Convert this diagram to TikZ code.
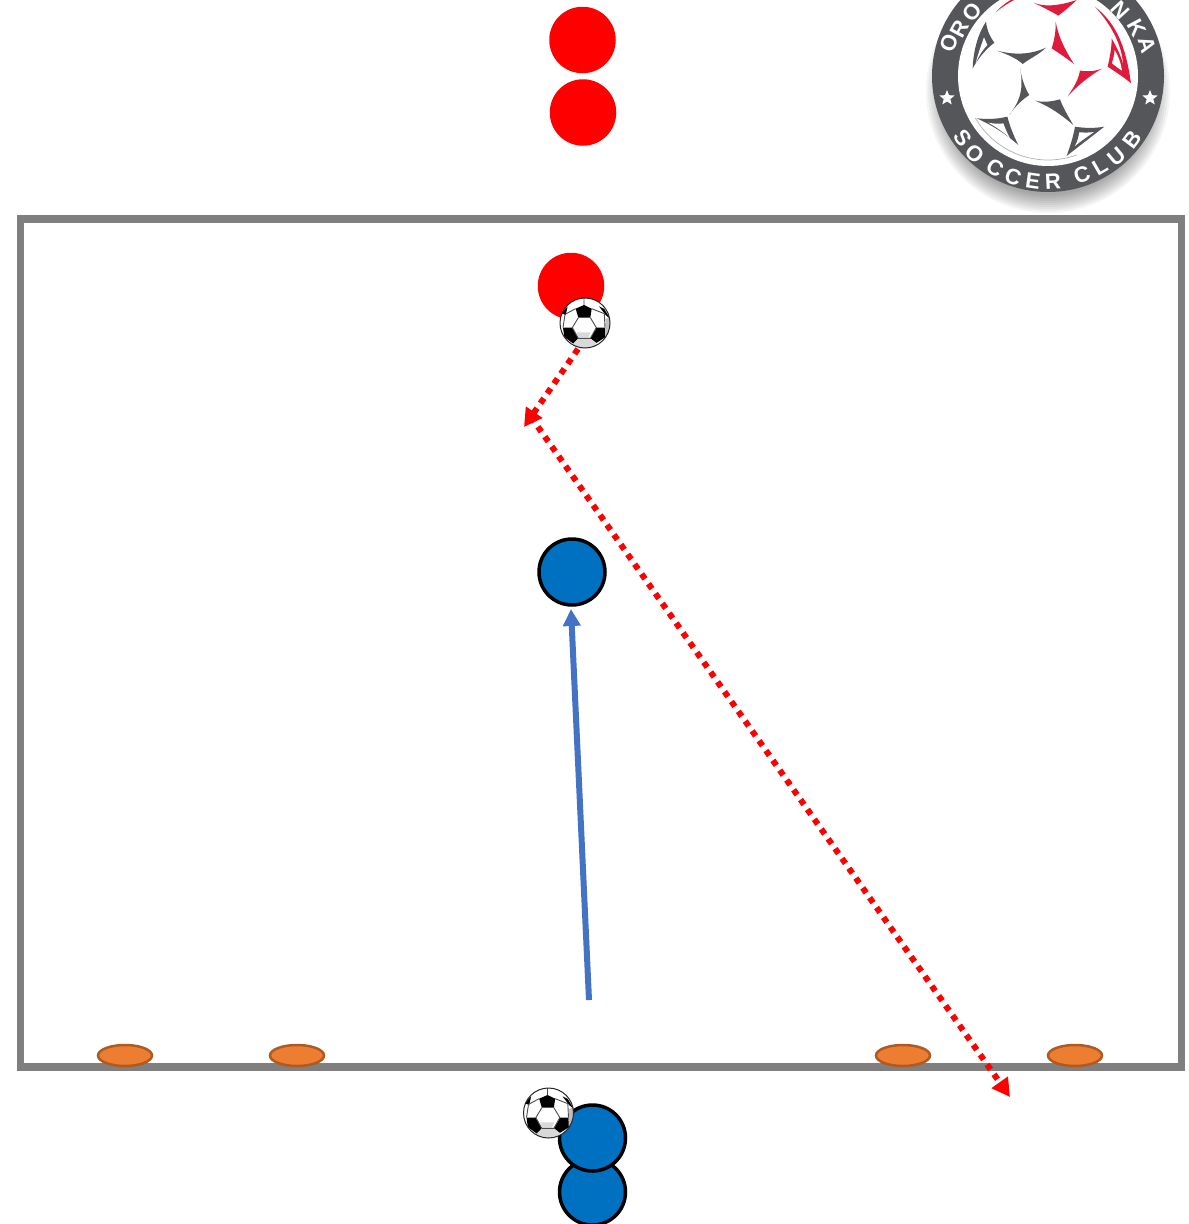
\documentclass[tikz,border=0pt]{standalone}
\usepackage{fontspec}
\setmainfont{Liberation Sans}
\usetikzlibrary{arrows.meta,shapes.geometric}
\definecolor{fieldgrey}{HTML}{7F7F7F}
\definecolor{playerblue}{HTML}{0070C0}
\definecolor{runblue}{HTML}{4472C4}
\definecolor{coneorange}{HTML}{ED7D31}
\definecolor{coneedge}{HTML}{AE5A21}
\definecolor{logogrey}{HTML}{55565A}
\definecolor{logored}{HTML}{DE1B3C}
\tikzset{
  redplayer/.style={circle,fill=red,draw=none,inner sep=0,minimum size=66.5pt},
  blueplayer/.style={circle,fill=playerblue,draw=black,line width=3.5pt,inner sep=0,minimum size=66pt},
  cone/.style={ellipse,fill=coneorange,draw=coneedge,line width=2.5pt,inner sep=0,minimum width=54pt,minimum height=21pt},
  passarrow/.style={red,line width=6pt,dash pattern=on 6pt off 6pt,-{Triangle[length=18pt,width=19pt]}},
  runarrow/.style={runblue,line width=6pt,-{Triangle[length=17pt,width=17pt]}},
  logoletter/.style={text=white,font=\bfseries\fontsize{22}{22}\selectfont,inner sep=0},
  logostar/.style={star,star points=5,star point ratio=2.3,fill=white,draw=none,inner sep=0,minimum size=16pt},
  gpatch/.style={fill=logogrey,draw=none},
  rpatch/.style={fill=logored,draw=none},
  pics/soccerball/.style={code={
    \begin{scope}[x=0.3333pt,y=-0.3333pt]
      \fill[white] (0,0) circle (75);
      \begin{scope}
        \clip (0,0) circle (75);
        \fill[black] (-28,-43)--(-3,-54)--(20,-43)--(16,-16)--(-20,-16)--cycle;
        \fill[black] (-38,14)--(-20,46)--(-35,62)--(-62,42)--(-66,14)--cycle;
        \fill[black] (34,14)--(16,46)--(34,60)--(62,42)--(60,14)--cycle;
        \fill[black!15] (-20,46)--(16,46)--(34,60)--(30,80)--(-30,80)--(-35,62)--cycle;
        \fill[black!25] (62,-12)--(80,-20)--(80,35)--(60,40)--cycle;
        \fill[black] (42,-50)--(58,-42)--(76,-12)--(62,-24)--cycle;
        \fill[black] (-72,-30)--(-52,-50)--(-58,-24)--cycle;
        \fill[black!15] (-25,28)--(17,28)--(10,44)--(-18,44)--cycle;
        \draw[black!70,line width=.9pt] (-20,-16)--(-38,14)--(-20,46)--(16,46)--(34,14)--(16,-16);
        \draw[black!70,line width=.9pt] (-28,-43)--(-60,-26)--(-66,14) (20,-43)--(58,-28)--(60,14) (-3,-54)--(-3,-75);
      \end{scope}
      \draw[black!85,line width=1pt] (0,0) circle (75);
    \end{scope}
  }}
}
\begin{document}
\begin{tikzpicture}[x=1pt,y=-1pt]
\useasboundingbox (0,0) rectangle (1189,1224);
\fill[white] (0,0) rectangle (1189,1224);

% logo
\begin{scope}
  \clip (0,0) rectangle (1189,1224);
  \foreach \r in {122,120,...,104}
    \fill[black,opacity=.04] (1048,91) circle (\r);
  \fill[logogrey] (1048,76) circle (116);
  \fill[white] (1048,76) circle (90);
  \draw[black!30,line width=.7pt] (975.3,118) arc (150:70:84);
  \begin{scope}[shift={(910,0)},x=0.3333pt,y=-0.3333pt]
    \path[gpatch] (228,65) .. controls (232,95) and (240,110) .. (253,128) .. controls (225,150) and (205,175) .. (188,205) .. controls (190,150) and (205,100) .. (228,65) -- cycle;
    \path[fill=white] (222,112) .. controls (212,140) and (203,165) .. (197,190) .. controls (208,165) and (218,150) .. (232,135) -- cycle;
    \path[gpatch] (262,152) .. controls (310,165) and (360,165) .. (408,143) .. controls (385,165) and (360,175) .. (338,192) .. controls (320,175) and (295,165) .. (262,152) -- cycle;
    \path[gpatch] (330,205) .. controls (335,235) and (345,265) .. (358,285) .. controls (335,300) and (315,320) .. (298,345) .. controls (320,315) and (345,280) .. (330,205) -- cycle;
    \path[gpatch] (375,302) .. controls (400,308) and (425,305) .. (450,298) .. controls (460,325) and (475,350) .. (490,375) .. controls (455,345) and (420,320) .. (375,302) -- cycle;
    \path[gpatch] (200,355) .. controls (230,358) and (260,358) .. (292,350) .. controls (300,380) and (312,410) .. (325,435) .. controls (285,400) and (245,375) .. (200,355) -- cycle;
    \path[fill=white] (235,368) .. controls (255,372) and (270,372) .. (280,370) .. controls (287,390) and (295,405) .. (300,415) .. controls (280,395) and (255,380) .. (235,368) -- cycle;
    \path[gpatch] (495,380) .. controls (525,385) and (555,385) .. (583,380) .. controls (545,410) and (505,440) .. (470,468) .. controls (480,440) and (490,410) .. (495,380) -- cycle;
    \path[fill=white] (508,397) .. controls (525,398) and (540,398) .. (552,396) .. controls (530,412) and (510,425) .. (495,438) .. controls (502,425) and (506,410) .. (508,397) -- cycle;
    \path[rpatch] (370,8) .. controls (400,20) and (440,20) .. (500,0) .. controls (480,20) and (460,35) .. (445,47) .. controls (425,35) and (400,22) .. (370,8) -- cycle;
    \path[fill=white] (410,3) -- (470,3) .. controls (455,8) and (435,10) .. (410,3) -- cycle;
    \path[rpatch] (437,65) .. controls (438,95) and (432,125) .. (425,145) .. controls (448,160) and (470,175) .. (492,192) .. controls (465,150) and (445,110) .. (437,65) -- cycle;
    \path[rpatch] (577,205) .. controls (555,215) and (530,215) .. (510,212) .. controls (505,240) and (490,265) .. (472,290) .. controls (505,255) and (535,230) .. (577,205) -- cycle;
    \path[rpatch] (555,20) .. controls (610,65) and (645,120) .. (663,250) .. controls (640,230) and (615,215) .. (593,200) .. controls (600,170) and (605,145) .. (605,115) .. controls (625,150) and (635,175) .. (640,195) .. controls (635,130) and (600,70) .. (555,20) -- cycle;
    \path[fill=white] (614,150) .. controls (626,170) and (633,190) .. (636,212) .. controls (625,205) and (615,197) .. (606,190) .. controls (610,175) and (613,165) .. (614,150) -- cycle;
    \path[rpatch] (258,36) .. controls (270,22) and (285,10) .. (302,0) -- (312,0) .. controls (290,12) and (275,22) .. (258,36) -- cycle;
  \end{scope}
  \foreach \n/\l/\px/\py/\a in {a/O/949/43/71.6,b/R/960/29/62,c/O/972/12/50,d/N/1120/10/-47.5,e/K/1137/28/-62,f/A/1147/45/-73,
     g/S/963/138/-54,h/O/975/154/-43,i/C/995/168/-30,j/C/1013/177/-19,k/E/1033/181/-8,l/R/1053/182/3,
     m/C/1082/175/19,n/L/1100/167/30,o/U/1117/157/40,p/B/1132/140/53}
    \node[logoletter,rotate=\a] (letter\n) at (\px,\py) {\l};
  \node[logostar] (starleft) at (947,98) {};
  \node[logostar] (starright) at (1150,98) {};
\end{scope}

% field
\draw[fieldgrey,line width=7.5pt] (20.5,219) rectangle (1181.5,1067);
\foreach \n/\x in {a/125,b/297,c/903,d/1075}
  \node[cone] (cone\n) at (\x,1055.5) {};

% players
\node[redplayer] (redone) at (582.5,40) {};
\node[redplayer] (redtwo) at (583,112.5) {};
\node[redplayer] (redthree) at (571,286) {};
\node[blueplayer] (bluemid) at (572,572) {};
\node[blueplayer] (bluelow) at (592.5,1192) {};
\node[blueplayer] (blueup) at (592.5,1138) {};

% balls
\pic at (585,323) {soccerball};
\pic at (548.5,1113) {soccerball};

% connectors
\coordinate (passstart) at (578,349);
\coordinate (passturn) at (524,427);
\coordinate (passback) at (531,417);
\coordinate (passend) at (1010,1097);
\coordinate (runstart) at (589,1000);
\coordinate (runend) at (571,609);
\draw[passarrow] (passstart) -- (passturn);
\draw[passarrow] (passback) -- (passend);
\draw[runarrow] (runstart) -- (runend);
\end{tikzpicture}
\end{document}
